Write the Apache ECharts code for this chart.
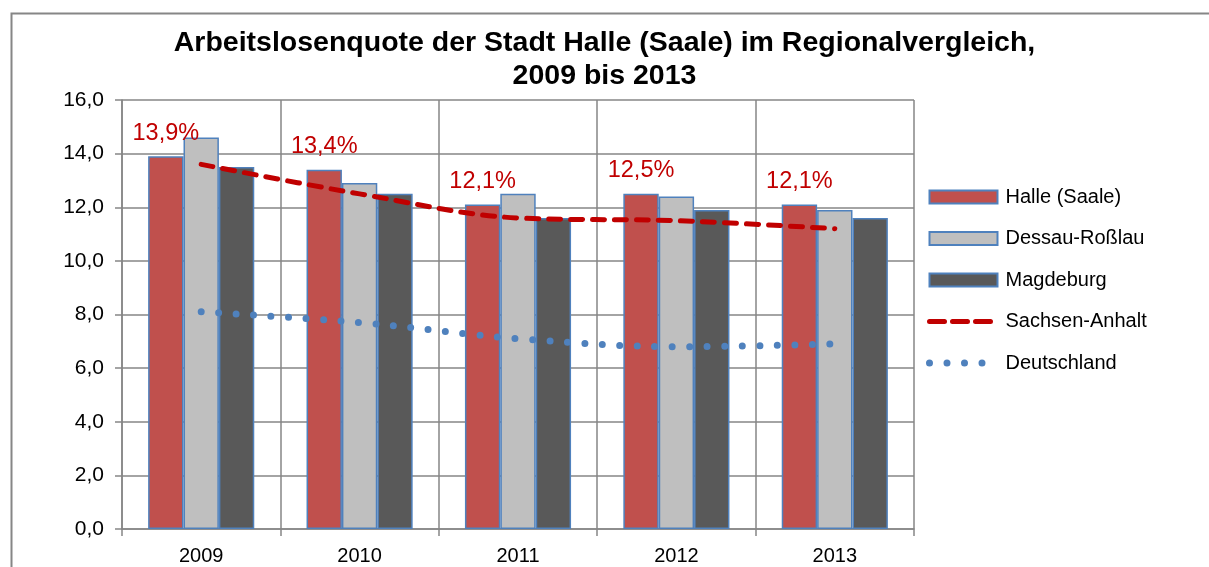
<!DOCTYPE html>
<html>
<head>
<meta charset="utf-8">
<style>
  html, body { margin: 0; padding: 0; background: #fff; }
  #chart { width: 1209px; height: 567px; }
</style>
<script src="https://cdn.jsdelivr.net/npm/echarts@6/dist/echarts.min.js"></script>
</head>
<body>
<div id="chart"></div>
<script>
var years = ['2009', '2010', '2011', '2012', '2013'];
var halle = [13.9, 13.4, 12.1, 12.5, 12.1];
var dessau = [14.6, 12.9, 12.5, 12.4, 11.9];
var magdeburg = [13.5, 12.5, 11.6, 11.9, 11.6];
var sachsenAnhalt = [13.6, 12.5, 11.6, 11.5, 11.2];
var deutschland = [8.1, 7.7, 7.1, 6.8, 6.9];
var yTicks = [0, 2, 4, 6, 8, 10, 12, 14, 16];

var font = 'Liberation Sans, Arial, sans-serif';
var gridColor = '#868686';
var barBorder = '#4F81BD';

function comma(v, digits) {
    return v.toFixed(digits).replace('.', ',');
}

var myChart = echarts.init(document.getElementById('chart'));

var option = {
    backgroundColor: '#fff',
    animation: false,
    textStyle: { fontFamily: font },
    title: {
        text: 'Arbeitslosenquote der Stadt Halle (Saale) im Regionalvergleich,\n2009 bis 2013',
        left: 'center',
        top: 27,
        padding: 0,
        textStyle: {
            fontSize: 28.5,
            fontWeight: 'bold',
            color: '#000',
            lineHeight: 33,
            fontFamily: font
        }
    },
    graphic: [{
        type: 'rect',
        left: 9,
        top: 11,
        shape: { width: 1300, height: 700 },
        style: { fill: 'none', stroke: gridColor, lineWidth: 2 },
        silent: true
    }],
    legend: {
        orient: 'vertical',
        left: 921,
        top: 181,
        itemWidth: 68,
        itemHeight: 13,
        itemGap: 19.5,
        textStyle: { fontSize: 20, color: '#000', fontFamily: font, lineHeight: 22, padding: [0, 0, 0, 3] },
        data: [
            { name: 'Halle (Saale)', icon: 'rect' },
            { name: 'Dessau-Roßlau', icon: 'rect' },
            { name: 'Magdeburg', icon: 'rect' },
            {
                name: 'Sachsen-Anhalt',
                itemStyle: { opacity: 0 },
                lineStyle: { width: 5, type: [15, 8], cap: 'round' }
            },
            {
                name: 'Deutschland',
                itemStyle: { opacity: 0 },
                lineStyle: { width: 7, type: [0, 17.5], cap: 'round' }
            }
        ]
    },
    grid: {
        left: 122,
        right: 1209 - 914,
        top: 100,
        bottom: 567 - 529,
        containLabel: false
    },
    xAxis: {
        type: 'category',
        data: years,
        boundaryGap: true,
        axisLine: { lineStyle: { color: gridColor, width: 1.5 } },
        axisTick: { show: true, length: 7, inside: false, lineStyle: { color: gridColor, width: 1.5 } },
        axisLabel: { fontSize: 20, color: '#000', margin: 17, fontFamily: font },
        splitLine: { show: true, lineStyle: { color: gridColor, width: 1.5 } }
    },
    yAxis: {
        type: 'value',
        min: yTicks[0],
        max: yTicks[yTicks.length - 1],
        interval: 2,
        axisLine: { show: true, lineStyle: { color: gridColor, width: 1.5 } },
        axisTick: { show: true, length: 7, lineStyle: { color: gridColor, width: 1.5 } },
        axisLabel: {
            fontSize: 21, color: '#000', margin: 18, fontFamily: font,
            formatter: function (v) { return comma(v, 1); }
        },
        splitLine: { show: true, lineStyle: { color: gridColor, width: 1.5 } }
    },
    series: [{
        name: 'Halle (Saale)',
        type: 'bar',
        data: halle,
        barGap: '0%',
        barCategoryGap: '33%',
        itemStyle: { color: '#C0504D', borderColor: barBorder, borderWidth: 1.5 },
        label: {
            show: true,
            position: 'top',
            distance: 11,
            fontSize: 23.5,
            color: '#C00000',
            fontFamily: font,
            formatter: function (p) { return comma(p.value, 1) + '%'; }
        },
        z: 2
    }, {
        name: 'Dessau-Roßlau',
        type: 'bar',
        data: dessau,
        barGap: '0%',
        barCategoryGap: '33%',
        itemStyle: { color: '#BFBFBF', borderColor: barBorder, borderWidth: 1.5 },
        z: 2
    }, {
        name: 'Magdeburg',
        type: 'bar',
        data: magdeburg,
        barGap: '0%',
        barCategoryGap: '33%',
        itemStyle: { color: '#595959', borderColor: barBorder, borderWidth: 1.5 },
        z: 2
    }, {
        name: 'Sachsen-Anhalt',
        type: 'line',
        data: sachsenAnhalt,
        smooth: 0.35,
        symbol: 'none',
        lineStyle: { color: '#C00000', width: 5, type: [12, 10], cap: 'round' },
        itemStyle: { color: '#C00000' },
        z: 5
    }, {
        name: 'Deutschland',
        type: 'line',
        data: deutschland,
        smooth: 0.35,
        symbol: 'none',
        lineStyle: { color: '#4F81BD', width: 7, type: [0, 17.5], cap: 'round' },
        itemStyle: { color: '#4F81BD' },
        z: 5
    }]
};

myChart.setOption(option);
</script>
</body>
</html>
